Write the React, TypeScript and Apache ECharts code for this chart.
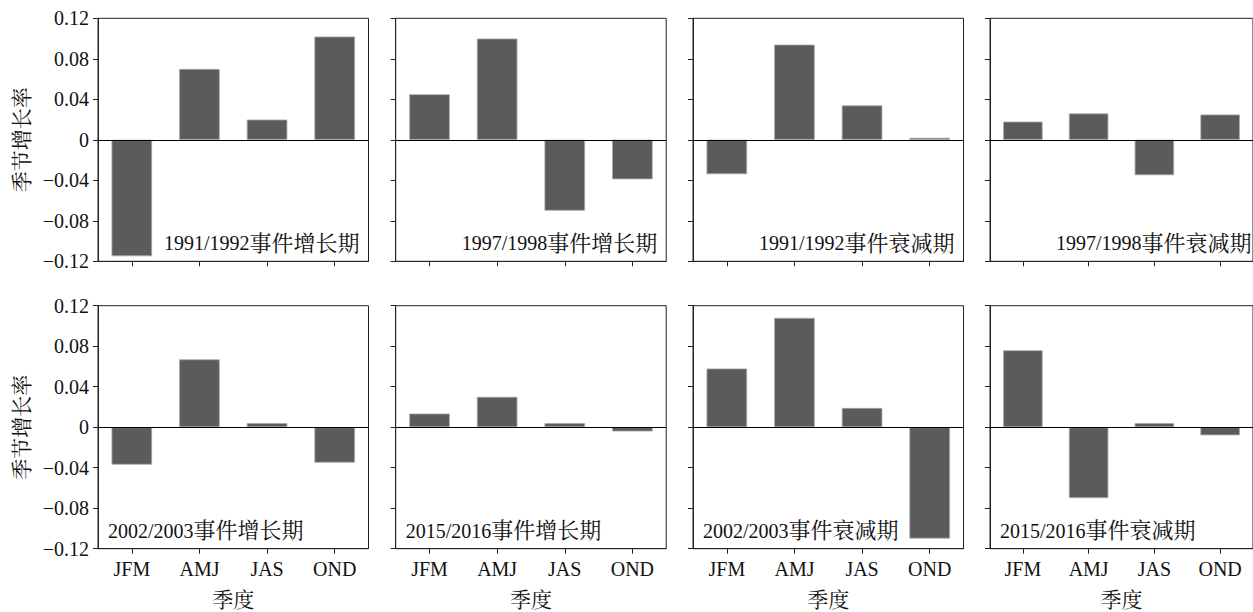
import React, { useEffect, useRef } from "react";
import * as echarts from "echarts";

const seasons = ["JFM", "AMJ", "JAS", "OND"];
const panelYears = [
  "1991/1992", "1997/1998", "1991/1992", "1997/1998",
  "2002/2003", "2015/2016", "2002/2003", "2015/2016",
];
const panelPhases = [
  "事件增长期", "事件增长期", "事件衰减期", "事件衰减期",
  "事件增长期", "事件增长期", "事件衰减期", "事件衰减期",
];
const growth9192 = [-0.115, 0.07, 0.02, 0.102];
const growth9798 = [0.045, 0.1, -0.07, -0.039];
const decay9192 = [-0.034, 0.094, 0.034, 0.002];
const decay9798 = [0.018, 0.026, -0.035, 0.025];
const growth0203 = [-0.037, 0.067, 0.004, -0.035];
const growth1516 = [0.0135, 0.030, 0.004, -0.0042];
const decay0203 = [0.058, 0.108, 0.019, -0.11];
const decay1516 = [0.076, -0.07, 0.004, -0.008];
const panelValues = [
  growth9192, growth9798, decay9192, decay9798,
  growth0203, growth1516, decay0203, decay1516,
];
const yTicks = { min: -0.12, max: 0.12, interval: 0.04 };
const yName = "季节增长率";
const xName = "季度";

const SERIF = "'Liberation Serif', 'Times New Roman', 'Noto Serif CJK SC', 'Noto Sans CJK SC', serif";

export default function App() {
  const ref = useRef<HTMLDivElement>(null);
  useEffect(() => {
    if (!ref.current) return;
    const chart = echarts.init(ref.current, null, { renderer: "svg" });
    const lefts = [98, 395.7, 693, 990];
    const tops = [18.3, 305.7];
    const W = 270.5;
    const H = 243;
    const grids: any[] = [];
    const xAxes: any[] = [];
    const yAxes: any[] = [];
    const series: any[] = [];
    const graphics: any[] = [];
    const fmt = (v: number) => {
      if (Math.abs(v) < 1e-9) return "0";
      const s = v.toFixed(2);
      return s.replace("-", "\u2212");
    };
    for (let i = 0; i < 8; i++) {
      const r = Math.floor(i / 4);
      const c = i % 4;
      grids.push({
        left: lefts[c],
        top: tops[r],
        width: W,
        height: H,
        show: true,
        borderColor: "#222",
        borderWidth: 1,
        backgroundColor: "transparent",
      });
      xAxes.push({
        type: "category",
        gridIndex: i,
        data: seasons,
        boundaryGap: true,
        axisLine: { show: true, onZero: false, lineStyle: { color: "#222", width: 1 } },
        axisTick: { show: true, alignWithLabel: true, length: 5, lineStyle: { color: "#222" } },
        axisLabel: {
          show: r === 1,
          color: "#111",
          fontFamily: SERIF,
          fontSize: 20,
          margin: 10,
        },
        splitLine: { show: false },
        name: r === 1 ? xName : "",
        nameLocation: "middle",
        nameGap: 41,
        nameTextStyle: { color: "#111", fontFamily: SERIF, fontSize: 21 },
      });
      yAxes.push({
        type: "value",
        gridIndex: i,
        min: yTicks.min,
        max: yTicks.max,
        interval: yTicks.interval,
        axisLine: { show: true, lineStyle: { color: "#222", width: 1 } },
        axisTick: { show: true, length: 5, lineStyle: { color: "#222" } },
        axisLabel: {
          show: c === 0,
          formatter: fmt,
          color: "#111",
          fontFamily: SERIF,
          fontSize: 20,
          margin: 9,
        },
        splitLine: { show: false },
        name: c === 0 ? yName : "",
        nameLocation: "middle",
        nameGap: 66,
        nameTextStyle: { color: "#111", fontFamily: SERIF, fontSize: 21 },
      });
      series.push({
        type: "bar",
        xAxisIndex: i,
        yAxisIndex: i,
        data: panelValues[i],
        barWidth: "60%",
        itemStyle: { color: "#5b5b5b", borderColor: "#a8a8a8", borderWidth: 0.8 },
        markLine: {
          silent: true,
          symbol: "none",
          label: { show: false },
          lineStyle: { color: "#000", width: 1, type: "solid" },
          data: [{ yAxis: 0 }],
        },
      });
      const alignRight = r === 0;
      graphics.push({
        type: "text",
        x: alignRight ? lefts[c] + W - 9 : lefts[c] + 10,
        y: tops[r] + H - 18,
        style: {
          text: `{d|${panelYears[i]}}{c|${panelPhases[i]}}`,
          rich: {
            d: { fill: "#111", fontFamily: SERIF, fontSize: 20 },
            c: { fill: "#111", fontFamily: SERIF, fontSize: 22 },
          },
          fill: "#111",
          font: `20px ${SERIF}`,
          textAlign: alignRight ? "right" : "left",
          textVerticalAlign: "middle",
        },
      });
    }
    chart.setOption({
      animation: false,
      backgroundColor: "#fff",
      grid: grids,
      xAxis: xAxes,
      yAxis: yAxes,
      series,
      graphic: graphics,
    });
    return () => chart.dispose();
  }, []);
  return (
    <div
      ref={ref}
      style={{ position: "fixed", left: 0, top: 0, width: 1253, height: 612, background: "#fff" }}
    />
  );
}
